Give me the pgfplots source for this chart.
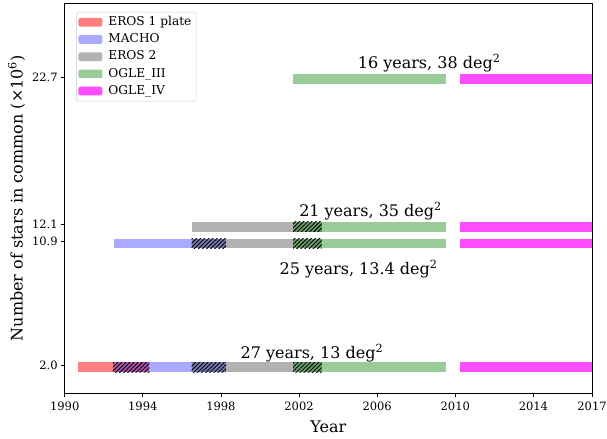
\documentclass[border=0pt]{standalone}
\usepackage{fontspec}
\setmainfont{DejaVu Serif}
\usepackage{pgfplots}
\pgfplotsset{compat=1.18}
\usetikzlibrary{patterns.meta}

\definecolor{cRed}{RGB}{255,0,0}
\definecolor{cBlue}{RGB}{0,0,255}
\definecolor{cBlack}{RGB}{0,0,0}
\definecolor{cGreen}{RGB}{0,128,0}
\definecolor{cMagenta}{RGB}{255,0,255}

% one survey segment: style, start year, end year, lower edge, upper edge
\newcommand\seg[5]{\addplot[#1, draw=none, forget plot] coordinates {(#2,#4) (#3,#4) (#3,#5) (#2,#5)} -- cycle;}
\newcommand\lgd{\fontsize{12.2bp}{14bp}\selectfont}

\pgfplotsset{
  eros1/.style={fill=cRed, fill opacity=0.5},
  macho/.style={fill=cBlue, fill opacity=0.333},
  eros2/.style={fill=cBlack, fill opacity=0.3},
  ogle3/.style={fill=cGreen, fill opacity=0.4},
  ogle4/.style={fill=cMagenta, fill opacity=0.7},
  overlap/.style={pattern={Lines[angle=45,distance=2.9bp,line width=0.9bp]}, pattern color=black},
  patch/.style={legend image code/.code={\path[draw=none,##1] (0bp,-4.35bp) rectangle (24bp,4.35bp);}},
}

\begin{document}
\begin{tikzpicture}
\begin{axis}[
  scale only axis, width=527.3bp, height=389.5bp,
  at={(64.7bp,46bp)}, anchor=south west,
  xmin=1990, xmax=2017, ymin=0, ymax=28,
  xtick={1990,1994,1998,2002,2006,2010,2014,2017},
  ytick={2.0,10.9,12.1,22.7},
  yticklabels={2.0,10.9,12.1,22.7},
  x tick label style={/pgf/number format/1000 sep={}, yshift=-2bp},
  /pgf/number format/assume math mode=true,
  tick align=outside, major tick length=3.5bp,
  xtick pos=bottom, ytick pos=left,
  tick style={black, line width=0.8bp},
  axis line style={line width=0.8bp},
  ticklabel style={font=\fontsize{11.5bp}{13bp}\selectfont},
  label style={font=\fontsize{16bp}{19bp}\selectfont},
  xlabel={Year},
  xlabel style={yshift=-3bp},
  ylabel={Number of stars in common (×10\textsuperscript{6})},
  legend style={at={(axis description cs:0,1)}, anchor=north west,
    xshift=11.5bp, yshift=-8.5bp,
    draw=black!20, rounded corners=2bp, fill=white,
    inner xsep=2bp, inner ysep=1.5bp, column sep=3bp,
    nodes={text height=9.6bp, text depth=3bp, inner ysep=2.3bp, inner xsep=3bp}},
  legend cell align=left,
]
\addlegendimage{patch, eros1}\addlegendentry{\lgd EROS 1 plate}
\addlegendimage{patch, macho}\addlegendentry{\lgd MACHO}
\addlegendimage{patch, eros2}\addlegendentry{\lgd EROS 2}
\addlegendimage{patch, ogle3}\addlegendentry{\lgd OGLE\_III}
\addlegendimage{patch, ogle4}\addlegendentry{\lgd OGLE\_IV}

% 2.0 million stars: all five surveys
\seg{eros1}{1990.66}{1994.34}{1.5}{2.2}
\seg{macho}{1992.47}{1998.26}{1.5}{2.2}
\seg{eros2}{1996.50}{2003.15}{1.5}{2.2}
\seg{ogle3}{2001.69}{2009.51}{1.5}{2.2}
\seg{ogle4}{2010.24}{2017.00}{1.5}{2.2}
\seg{overlap}{1992.47}{1994.34}{1.5}{2.2}
\seg{overlap}{1996.50}{1998.26}{1.5}{2.2}
\seg{overlap}{2001.69}{2003.15}{1.5}{2.2}

% 10.9 million stars
\seg{macho}{1992.52}{1998.26}{10.4}{11.1}
\seg{eros2}{1996.50}{2003.15}{10.4}{11.1}
\seg{ogle3}{2001.69}{2009.51}{10.4}{11.1}
\seg{ogle4}{2010.24}{2017.00}{10.4}{11.1}
\seg{overlap}{1996.50}{1998.26}{10.4}{11.1}
\seg{overlap}{2001.69}{2003.15}{10.4}{11.1}

% 12.1 million stars
\seg{eros2}{1996.50}{2003.15}{11.6}{12.3}
\seg{ogle3}{2001.69}{2009.51}{11.6}{12.3}
\seg{ogle4}{2010.24}{2017.00}{11.6}{12.3}
\seg{overlap}{2001.69}{2003.15}{11.6}{12.3}

% 22.7 million stars
\seg{ogle3}{2001.69}{2009.51}{22.2}{22.9}
\seg{ogle4}{2010.24}{2017.00}{22.2}{22.9}

\begin{scope}[every node/.style={anchor=base west, font=\fontsize{16bp}{19bp}\selectfont, inner sep=0pt}]
\node at (axis cs:2005,23.3) {16 years, 38 deg\textsuperscript{2}};
\node at (axis cs:2002,12.7) {21 years, 35 deg\textsuperscript{2}};
\node at (axis cs:2001,8.5) {25 years, 13.4 deg\textsuperscript{2}};
\node at (axis cs:1999,2.45) {27 years, 13 deg\textsuperscript{2}};
\end{scope}
\end{axis}
\pgfresetboundingbox
\path[use as bounding box] (0,0) rectangle (607bp,439bp);
\end{tikzpicture}
\end{document}
